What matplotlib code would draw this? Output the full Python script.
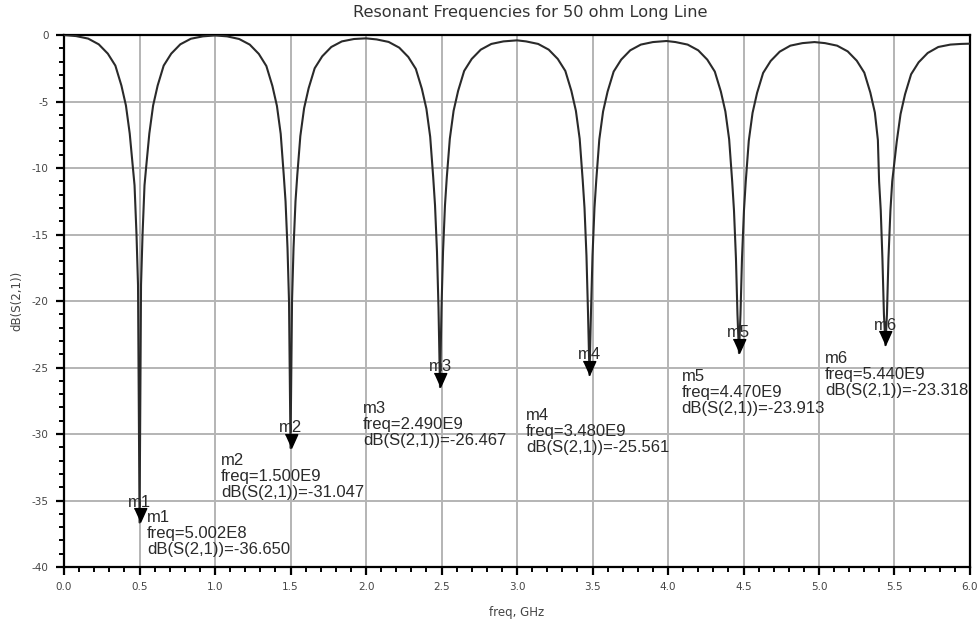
import matplotlib.pyplot as plt
from matplotlib.ticker import MultipleLocator, FormatStrFormatter

# S21 sweep of the long line, GHz / dB
freq_ghz = [
    0.00, 0.08, 0.16, 0.23, 0.29, 0.34, 0.38, 0.41, 0.435, 0.455, 0.467, 0.48, 0.49,
    0.5002,
    0.51, 0.52, 0.533, 0.545, 0.565, 0.59, 0.62, 0.66, 0.71, 0.77, 0.84, 0.92,
    1.00,
    1.08, 1.16, 1.23, 1.29, 1.34, 1.38, 1.41, 1.435, 1.455, 1.467, 1.48, 1.49,
    1.500,
    1.51, 1.52, 1.533, 1.545, 1.565, 1.59, 1.62, 1.66, 1.71, 1.77, 1.84, 1.92,
    2.00,
    2.07, 2.15, 2.22, 2.28, 2.33, 2.37, 2.40, 2.425, 2.445, 2.457, 2.47, 2.48,
    2.490,
    2.50, 2.51, 2.523, 2.535, 2.555, 2.58, 2.61, 2.65, 2.70, 2.76, 2.83, 2.91,
    3.00,
    3.06, 3.14, 3.21, 3.27, 3.32, 3.36, 3.39, 3.415, 3.435, 3.447, 3.46, 3.47,
    3.480,
    3.49, 3.50, 3.513, 3.525, 3.545, 3.57, 3.60, 3.64, 3.69, 3.75, 3.82, 3.90,
    3.99,
    4.05, 4.13, 4.20, 4.26, 4.31, 4.35, 4.38, 4.405, 4.425, 4.437, 4.45, 4.46,
    4.470,
    4.48, 4.49, 4.503, 4.515, 4.535, 4.56, 4.59, 4.63, 4.68, 4.74, 4.81, 4.89,
    4.97,
    5.04, 5.12, 5.19, 5.25, 5.30, 5.34, 5.37, 5.39, 5.398, 5.409, 5.42, 5.43,
    5.440,
    5.45, 5.46, 5.473, 5.485, 5.515, 5.54, 5.57, 5.61, 5.66, 5.72, 5.79, 5.87,
    5.94, 6.00,
]
s21_db = [
    0.0, -0.08, -0.27, -0.7, -1.4, -2.3, -3.8, -5.3, -7.4, -9.8, -11.3, -15.0, -18.8,
    -36.650,
    -18.8, -15.0, -11.3, -9.8, -7.4, -5.3, -3.8, -2.3, -1.4, -0.7, -0.28, -0.1,
    -0.03,
    -0.1, -0.3, -0.72, -1.42, -2.33, -3.83, -5.33, -7.43, -10.5, -12.5, -16.0, -20.0,
    -31.047,
    -20.0, -16.0, -12.5, -10.5, -7.6, -5.5, -4.0, -2.5, -1.6, -0.9, -0.48, -0.3,
    -0.25,
    -0.33, -0.52, -0.95, -1.65, -2.55, -4.05, -5.55, -7.65, -10.7, -12.8, -16.3, -20.5,
    -26.467,
    -20.5, -16.3, -12.8, -10.7, -7.8, -5.7, -4.2, -2.7, -1.8, -1.1, -0.67, -0.48,
    -0.40,
    -0.48, -0.67, -1.1, -1.8, -2.7, -4.2, -5.7, -7.8, -10.9, -13.0, -16.6, -20.8,
    -25.561,
    -20.8, -16.6, -13.0, -10.9, -7.85, -5.75, -4.25, -2.75, -1.85, -1.15, -0.72, -0.53,
    -0.45,
    -0.53, -0.72, -1.15, -1.85, -2.75, -4.25, -5.75, -7.85, -11.0, -13.2, -16.8, -21.0,
    -23.913,
    -21.0, -16.8, -13.2, -11.0, -7.95, -5.85, -4.35, -2.85, -1.95, -1.25, -0.8, -0.61,
    -0.53,
    -0.61, -0.8, -1.23, -1.93, -2.83, -4.33, -5.83, -7.9, -11.0, -13.2, -16.8, -21.0,
    -23.318,
    -21.0, -16.8, -13.2, -11.0, -8.0, -5.95, -4.45, -2.95, -2.05, -1.35, -0.9, -0.72,
    -0.67, -0.65,
]

# markers m1..m6
mk_names = ["m1", "m2", "m3", "m4", "m5", "m6"]
mk_freq = [0.5002, 1.500, 2.490, 3.480, 4.470, 5.440]
mk_db = [-36.650, -31.047, -26.467, -25.561, -23.913, -23.318]
mk_freq_txt = ["5.002E8", "1.500E9", "2.490E9", "3.480E9", "4.470E9", "5.440E9"]
# where each readout block sits (left edge, middle line)
rd_x = [0.550, 1.04, 1.98, 3.06, 4.09, 5.04]
rd_y = [-37.5, -33.2, -29.3, -29.8, -26.9, -25.5]

fig = plt.figure(figsize=(9.79, 6.22), dpi=100)
ax = fig.add_axes([0.0654, 0.0884, 0.9254, 0.8553])

ax.plot(freq_ghz, s21_db, color="#2a2a2a", lw=1.5, zorder=3)

tri = [(-0.45, 1.0), (0.45, 1.0), (0.0, 0.0)]
for i in range(len(mk_names)):
    ax.plot(mk_freq[i], mk_db[i], marker=tri, ms=20, color="black",
            linestyle="none", zorder=4, clip_on=False)
    ax.annotate(mk_names[i], (mk_freq[i], mk_db[i]), xytext=(0, 14.5),
                textcoords="offset points", ha="center", va="center",
                fontsize=12, family="Liberation Sans", color="#2a2a2a", zorder=5)
    txt = "%s\nfreq=%s\ndB(S(2,1))=%.3f" % (mk_names[i], mk_freq_txt[i], mk_db[i])
    ax.text(rd_x[i], rd_y[i], txt, ha="left", va="center", fontsize=12,
            family="Liberation Sans", color="#2a2a2a", linespacing=1.07, zorder=5)

ax.set_xlim(0, 6)
ax.set_ylim(-40, 0)
ax.xaxis.set_major_locator(MultipleLocator(0.5))
ax.xaxis.set_minor_locator(MultipleLocator(0.1))
ax.yaxis.set_major_locator(MultipleLocator(5))
ax.yaxis.set_minor_locator(MultipleLocator(1))
ax.xaxis.set_major_formatter(FormatStrFormatter("%.1f"))
ax.yaxis.set_major_formatter(FormatStrFormatter("%d"))
ax.grid(True, which="major", color="#b4b4b4", lw=1.4, zorder=1)
ax.set_axisbelow(True)

for s in ax.spines.values():
    s.set_linewidth(1.6)
    s.set_color("black")
ax.tick_params(which="major", direction="out", length=6, width=1.6, labelsize=7.5,
               labelcolor="#444444", pad=5)
ax.tick_params(which="minor", direction="out", length=3.5, width=1.4)

ax.set_xlabel("freq, GHz", fontsize=8.5, color="#444444", labelpad=10)
ax.set_ylabel("dB(S(2,1))", fontsize=8.5, color="#444444", labelpad=6)
fig.text(530 / 979, 1 - 12 / 622, "Resonant Frequencies for 50 ohm Long Line",
         ha="center", va="center", fontsize=11.6, color="#333333")

fig.savefig("out.png", dpi=100)
